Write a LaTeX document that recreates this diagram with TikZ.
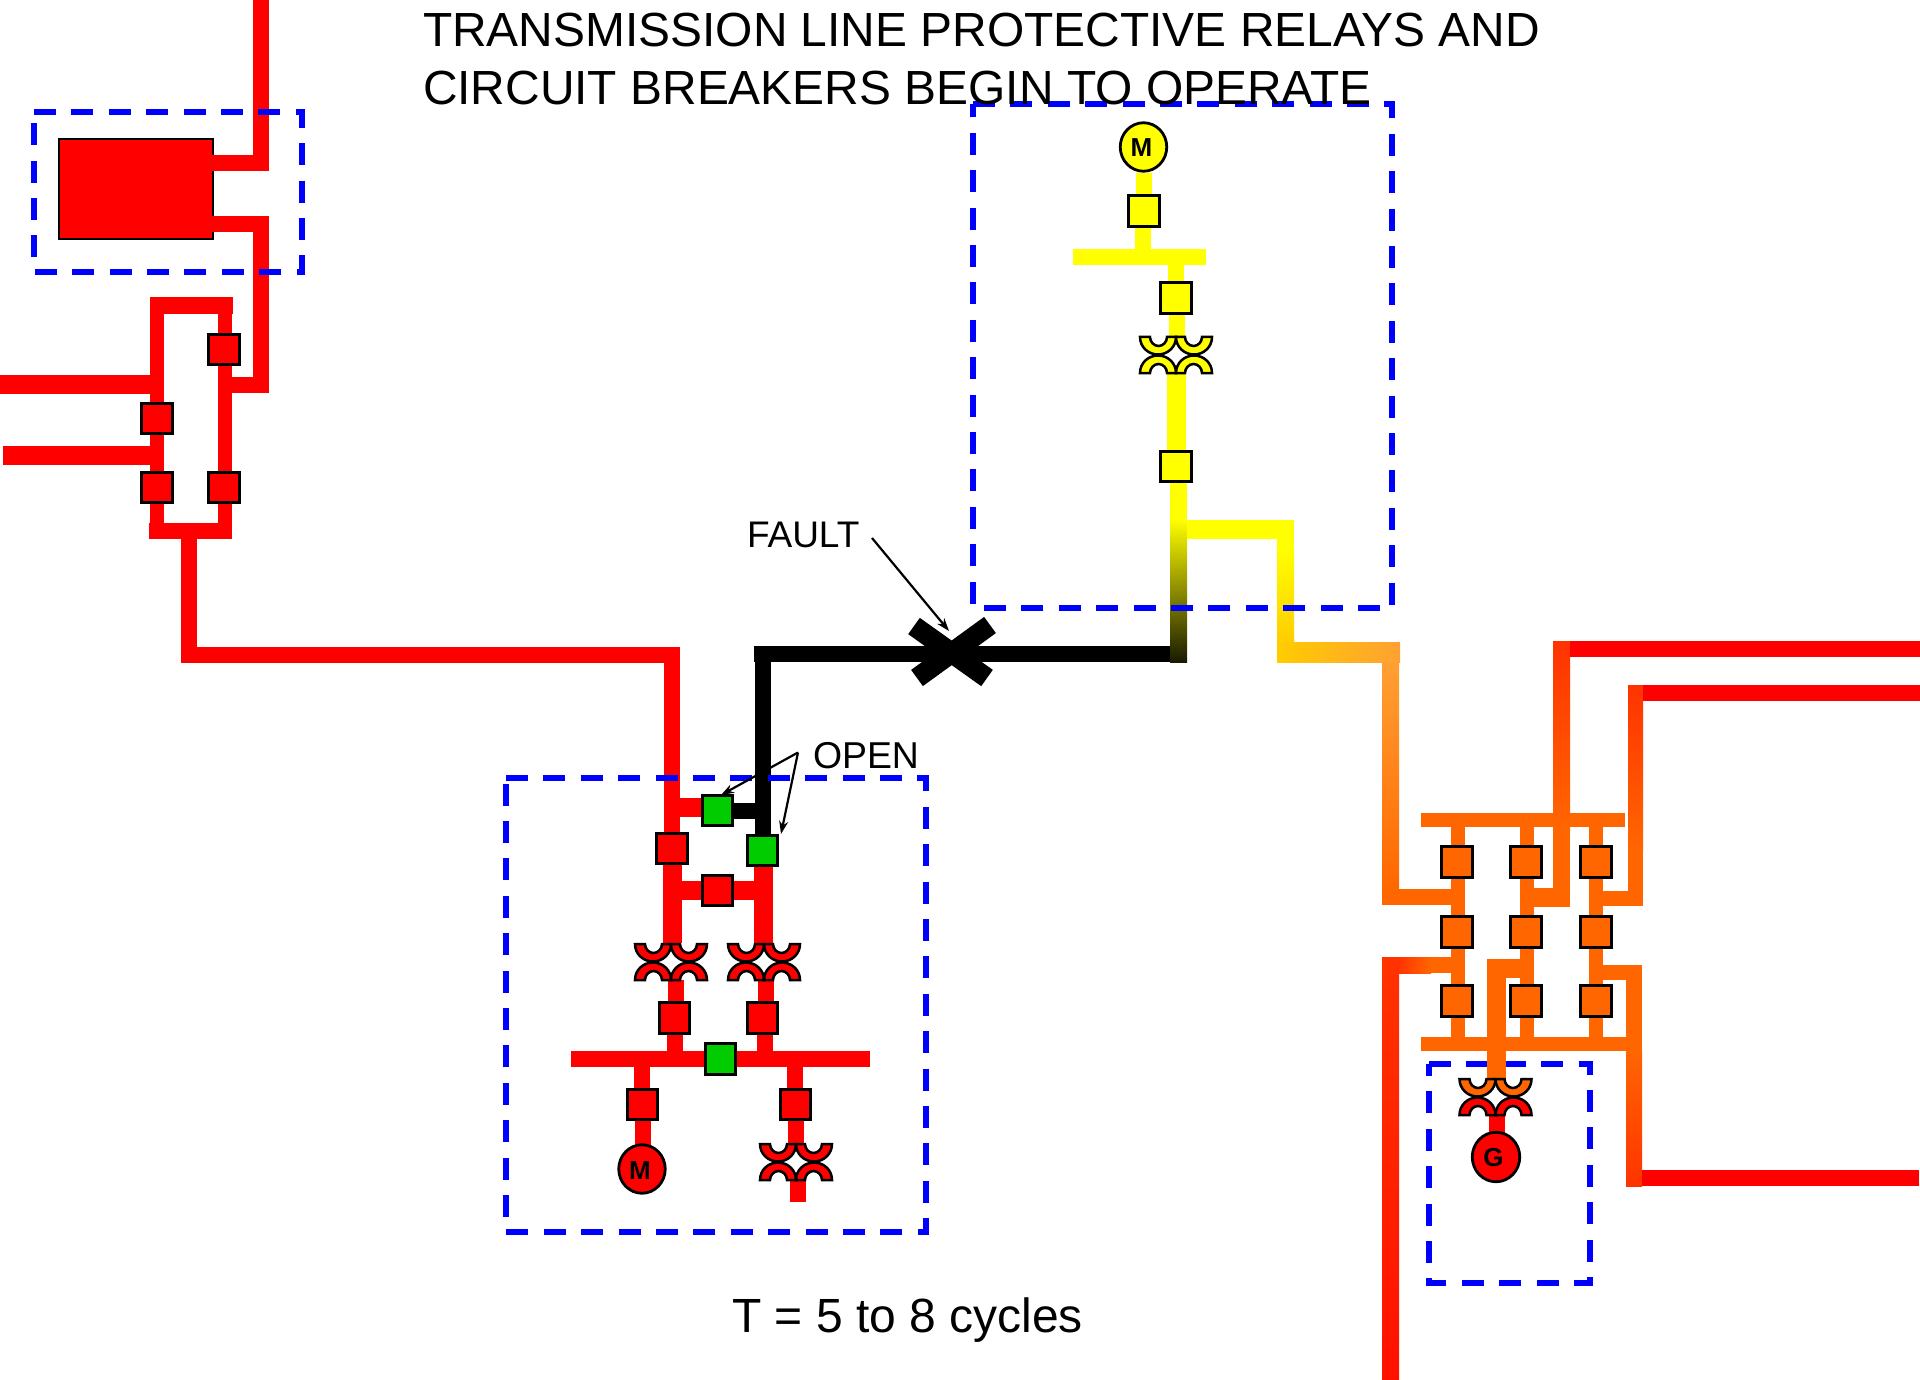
\documentclass[tikz,border=0pt]{standalone}
\usepackage{fontspec}
\setmainfont{Liberation Sans}
\usetikzlibrary{arrows.meta,shapes.geometric}
\definecolor{sred}{HTML}{FF0000}
\definecolor{sgreen}{HTML}{00CC00}
\definecolor{syel}{HTML}{FFFF00}
\definecolor{sorg}{HTML}{FF6600}
\definecolor{sdeep}{HTML}{FF3300}
\definecolor{sblue}{HTML}{0000FF}
\tikzset{
  wire/.style={line cap=butt,line join=miter,miter limit=10},
  brk/.style={rectangle,draw=black,line width=2.8pt,minimum width=30.5pt,minimum height=30.5pt,inner sep=0pt,outer sep=0pt},
  rot/.style={ellipse,draw=black,line width=2.8pt,inner sep=0pt,outer sep=0pt,minimum width=46.5pt,minimum height=48.5pt},
  rottxt/.style={inner sep=0pt,font=\fontsize{26}{26}\selectfont\bfseries},
  gbox/.style={draw=sblue,line width=5.2pt,dash pattern=on 22pt off 15.4pt,line cap=butt},
  lbl/.style={inner sep=0pt,outer sep=0pt,anchor=base west,text=black},
  ptr/.style={draw=black,line width=2.2pt,-{Stealth[length=13pt,width=9pt]}}
}
\newcommand{\cupshape}{(-36,0) .. controls (-36,9.9) and (-27.9,17.5) .. (-18,17.5) .. controls (-8.1,17.5) and (0,9.9) .. (0,0) -- (-9,0) .. controls (-9,5) and (-13,9) .. (-17.5,9) .. controls (-22,9) and (-26,5) .. (-26,0) -- cycle}
\newcommand{\ctsym}[4]{%
  \begin{scope}[shift={(#1,#2)}]
    \draw[black,line width=2.5pt,fill=#3] \cupshape;
    \begin{scope}[xscale=-1]\draw[black,line width=2.5pt,fill=#3] \cupshape;\end{scope}
    \begin{scope}[shift={(0,36)},yscale=-1]
      \draw[black,line width=2.5pt,fill=#4] \cupshape;
      \begin{scope}[xscale=-1]\draw[black,line width=2.5pt,fill=#4] \cupshape;\end{scope}
    \end{scope}
  \end{scope}}
\begin{document}
\begin{tikzpicture}[x=1pt,y=-1pt]
\useasboundingbox (0,0) rectangle (1920,1380);
\fill[white] (0,0) rectangle (1920,1380);

% ---------- substation box (generator) lies beneath the wires
\draw[gbox] (1429,1064) -- (1590,1064) -- (1590,1283) -- (1429,1283) -- cycle;

% ---------- upper left station
\node[rectangle,draw=black,line width=2.8pt,fill=sred,inner sep=0pt,outer sep=0pt,minimum width=154pt,minimum height=100pt] (xfmr) at (136,189) {};
\draw[wire,sred,line width=16pt] (261,0) -- (261,163) -- (212,163);
\draw[wire,sred,line width=16pt] (212,224) -- (261,224) -- (261,385) -- (218,385);
\fill[sred] (150,297) rectangle (233,314);
\fill[sred] (150,297) rectangle (164,523);
\fill[sred] (218,314) rectangle (232,539);
\fill[sred] (149,523) rectangle (232,539);
\fill[sred] (0,375) rectangle (164,394);
\fill[sred] (3,446) rectangle (164,465);
\draw[wire,sred,line width=16pt] (189,539) -- (189,655) -- (680,655);
\fill[sred] (664,647) rectangle (680,832);
\node[brk,fill=sred] (ba) at (224,349.5) {};
\node[brk,fill=sred] (bb) at (157,418.5) {};
\node[brk,fill=sred] (bc) at (157,487.5) {};
\node[brk,fill=sred] (bd) at (224,487.5) {};

% ---------- faulted line
\fill[black] (754,646) rectangle (1171,662);
\fill[black] (755,646) rectangle (771,834);
\fill[black] (734,803) rectangle (756,819);
\draw[wire,black,line width=20pt] (914,626) -- (987,678);
\draw[wire,black,line width=20pt] (990,625) -- (917,678);
\node[inner sep=0pt,outer sep=0pt] (xmark) at (952,652) {};

% ---------- lower centre station
\fill[sred] (680,798) rectangle (703,817);
\fill[sred] (663,865) rectangle (682,943);
\fill[sred] (754,867) rectangle (773,943);
\fill[sred] (682,881) rectangle (754,900);
\fill[sred] (668,980) rectangle (684,1002);
\fill[sred] (758,980) rectangle (774,1002);
\fill[sred] (667,1034) rectangle (683,1051);
\fill[sred] (757,1034) rectangle (773,1051);
\fill[sred] (571,1051) rectangle (870,1067);
\fill[sred] (634,1067) rectangle (650,1088);
\fill[sred] (787,1067) rectangle (803,1088);
\fill[sred] (635,1121) rectangle (651,1145);
\fill[sred] (788,1121) rectangle (804,1144);
\fill[sred] (790,1180) rectangle (806,1202);
\node[brk,fill=sgreen] (gt) at (717.5,810.5) {};
\node[brk,fill=sgreen] (gr) at (762.5,850.5) {};
\node[brk,fill=sred] (be) at (672,848.5) {};
\node[brk,fill=sred] (bf) at (717.5,890.5) {};
\ctsym{671}{944}{sred}{sred}
\ctsym{764}{944}{sred}{sred}
\node[brk,fill=sred] (bg) at (674.5,1018) {};
\node[brk,fill=sred] (bh) at (762.5,1018) {};
\node[brk,fill=sgreen] (gb) at (720.5,1059) {};
\node[brk,fill=sred] (bi) at (642.5,1104.5) {};
\node[brk,fill=sred] (bj) at (795.5,1104.5) {};
\node[rot,fill=sred] (mr) at (642,1169) {};
\node[rottxt] (mrt) at (640,1171) {M};
\ctsym{796}{1144}{sred}{sred}

% ---------- yellow station
\fill[syel] (1136,173) rectangle (1152,195);
\fill[syel] (1135,228) rectangle (1151,249);
\fill[syel] (1073,249) rectangle (1206,265);
\fill[syel] (1168,265) rectangle (1184,281);
\fill[syel] (1169,315) rectangle (1185,338);
\fill[syel] (1167,373) rectangle (1186,450);
\fill[syel] (1170,483) rectangle (1187,520);
\shade[top color=syel,bottom color=black!90!syel] (1170,519) rectangle (1187,662);
\fill[syel] (1187,520) rectangle (1294,539);
\fill[syel] (1277,520) rectangle (1294,550);
\shade[top color=syel,bottom color={rgb,255:red,255;green,204;blue,0}] (1277,549) rectangle (1294,643);
\shade[left color={rgb,255:red,255;green,204;blue,0},right color={rgb,255:red,255;green,160;blue,51}] (1277,642) rectangle (1400,662);
\node[rot,fill=syel] (my) at (1143.5,147) {};
\node[rottxt] (myt) at (1141.5,148) {M};
\node[brk,fill=syel] (ya) at (1144,211) {};
\node[brk,fill=syel] (yb) at (1176,298) {};
\ctsym{1176}{337}{syel}{syel}
\node[brk,fill=syel] (yc) at (1176,466.5) {};

% ---------- right station wires
\shade[top color={rgb,255:red,255;green,160;blue,51},bottom color=sorg] (1382,662) rectangle (1399,890);
\fill[sorg] (1382,889) rectangle (1465,905);
\fill[sorg] (1421,813) rectangle (1625,827);
\fill[sorg] (1421,1037) rectangle (1642,1051);
\fill[sorg] (1451,827) rectangle (1465,1037);
\fill[sorg] (1520,827) rectangle (1534,1037);
\fill[sorg] (1589,827) rectangle (1603,1037);
% feeder 2
\shade[top color=sdeep,bottom color=sorg] (1553,641) rectangle (1570,830);
\fill[sorg] (1553,829) rectangle (1570,907);
\fill[sorg] (1534,888) rectangle (1570,907);
\fill[sred] (1570,641) rectangle (1920,657);
% feeder 3
\shade[top color=sdeep,bottom color=sorg] (1628,685) rectangle (1643,850);
\fill[sorg] (1628,849) rectangle (1643,906);
\fill[sorg] (1603,891) rectangle (1643,906);
\fill[sred] (1643,685) rectangle (1920,701);
% feeder 3 low
\fill[sorg] (1603,965) rectangle (1642,980);
\fill[sorg] (1626,965) rectangle (1642,1051);
\shade[top color=sorg,bottom color=sdeep] (1626,1050) rectangle (1642,1186);
\fill[sred] (1642,1170) rectangle (1919,1186);
% feeder 1 low
\fill[sorg] (1430,957) rectangle (1465,973);
\shade[left color=sdeep,right color=sorg] (1398,957) rectangle (1431,973);
\shade[top color=sdeep,bottom color={rgb,255:red,255;green,17;blue,0}] (1382,957) rectangle (1399,1380);
% generator feed
\fill[sorg] (1487,959) rectangle (1506,1079);
\fill[sorg] (1487,959) rectangle (1534,978);
\fill[sred] (1489,1114) rectangle (1505,1133);

\foreach \nm/\cx in {p/1457,q/1526,r/1596}{
  \node[brk,fill=sorg] (\nm a) at (\cx,862) {};
  \node[brk,fill=sorg] (\nm b) at (\cx,932) {};
  \node[brk,fill=sorg] (\nm c) at (\cx,1001) {};
}
\ctsym{1495.5}{1079}{sorg}{sred}
\node[rot,fill=sred,minimum width=47.5pt,minimum height=49.5pt] (ggen) at (1496,1157) {};
\node[rottxt] (ggent) at (1493.5,1158) {G};

% ---------- group boxes on top of wires
\draw[gbox] (34,112) -- (302,112) -- (302,272) -- (34,272) -- cycle;
\draw[gbox] (973,104) -- (1392,104) -- (1392,608) -- (973,608) -- cycle;
\draw[gbox] (506,778) -- (926,778) -- (926,1232) -- (506,1232) -- cycle;

% ---------- labels and pointers
\coordinate (faultfrom) at (872,538);
\coordinate (faulttip) at (949,631);
\draw[ptr] (faultfrom) -- (faulttip);
\coordinate (openapex) at (798,752.5);
\coordinate (opentipa) at (721,795);
\coordinate (opentipb) at (781,834);
\draw[ptr] (openapex) -- (opentipa);
\draw[ptr] (openapex) -- (opentipb);
\node[lbl,font=\fontsize{37}{37}\selectfont] (faultlbl) at (747,547) {FAULT};
\node[lbl,font=\fontsize{37.4}{37.4}\selectfont] (openlbl) at (813,768) {OPEN};
\node[lbl,font=\fontsize{47.9}{47.9}\selectfont] (title1) at (423,46.5) {TRANSMISSION LINE PROTECTIVE RELAYS AND};
\node[lbl,font=\fontsize{47.9}{47.9}\selectfont] (title2) at (423,105) {CIRCUIT BREAKERS BEGIN TO OPERATE};
\node[lbl,font=\fontsize{48}{48}\selectfont] (cyc) at (732,1332) {T = 5 to 8 cycles};
\end{tikzpicture}
\end{document}
